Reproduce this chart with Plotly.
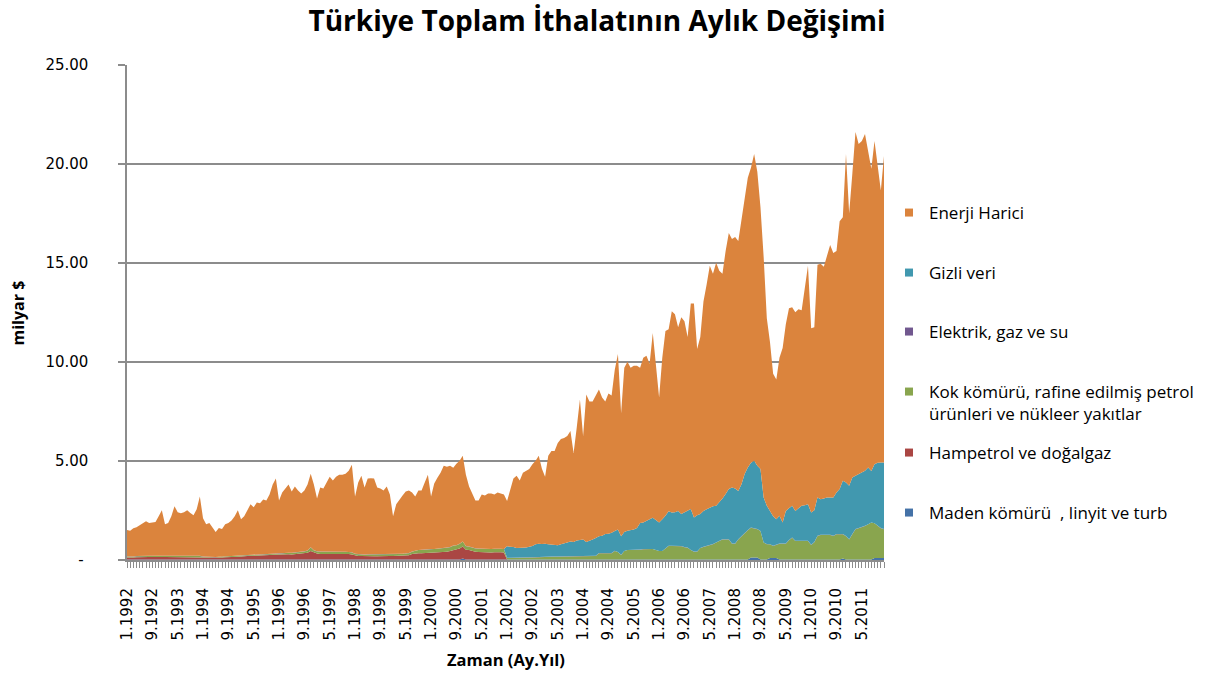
import plotly.graph_objects as go

# ---------------- data (milyar $, monthly 1.1992 - 12.2011) ----------------
years = list(range(1992, 2012))
months = [f"{m}.{y}" for y in years for m in range(1, 13)]

tick_labels = ["1.1992", "9.1992", "5.1993", "1.1994", "9.1994", "5.1995", "1.1996",
               "9.1996", "5.1997", "1.1998", "9.1998", "5.1999", "1.2000", "9.2000",
               "5.2001", "1.2002", "9.2002", "5.2003", "1.2004", "9.2004", "5.2005",
               "1.2006", "9.2006", "5.2007", "1.2008", "9.2008", "5.2009", "1.2010",
               "9.2010", "5.2011"]

y_ticks = [0, 5, 10, 15, 20, 25]
y_tick_text = ["-", "5.00", "10.00", "15.00", "20.00", "25.00"]

maden = [
    0.03, 0.03, 0.03, 0.03, 0.03, 0.03, 0.03, 0.03, 0.03, 0.03, 0.03, 0.03,  # 1992
    0.03, 0.03, 0.03, 0.03, 0.03, 0.03, 0.03, 0.03, 0.03, 0.03, 0.03, 0.03,  # 1993
    0.03, 0.03, 0.03, 0.03, 0.03, 0.03, 0.03, 0.03, 0.03, 0.03, 0.03, 0.03,  # 1994
    0.03, 0.03, 0.03, 0.03, 0.03, 0.03, 0.03, 0.03, 0.03, 0.03, 0.03, 0.03,  # 1995
    0.03, 0.03, 0.03, 0.03, 0.03, 0.03, 0.03, 0.03, 0.03, 0.03, 0.03, 0.03,  # 1996
    0.03, 0.03, 0.03, 0.03, 0.03, 0.03, 0.03, 0.03, 0.03, 0.03, 0.03, 0.03,  # 1997
    0.03, 0.03, 0.03, 0.03, 0.03, 0.03, 0.03, 0.03, 0.03, 0.03, 0.03, 0.03,  # 1998
    0.03, 0.03, 0.03, 0.03, 0.03, 0.03, 0.03, 0.03, 0.03, 0.03, 0.03, 0.03,  # 1999
    0.03, 0.03, 0.03, 0.03, 0.03, 0.03, 0.03, 0.03, 0.03, 0.03, 0.08, 0.03,  # 2000
    0.03, 0.03, 0.03, 0.03, 0.03, 0.03, 0.03, 0.03, 0.03, 0.03, 0.03, 0.03,  # 2001
    0.03, 0.03, 0.03, 0.03, 0.03, 0.03, 0.03, 0.03, 0.03, 0.03, 0.03, 0.03,  # 2002
    0.03, 0.03, 0.03, 0.03, 0.03, 0.03, 0.03, 0.03, 0.03, 0.03, 0.03, 0.03,  # 2003
    0.03, 0.03, 0.03, 0.03, 0.03, 0.03, 0.03, 0.03, 0.03, 0.03, 0.03, 0.03,  # 2004
    0.03, 0.03, 0.03, 0.03, 0.03, 0.03, 0.03, 0.03, 0.03, 0.03, 0.03, 0.03,  # 2005
    0.03, 0.03, 0.03, 0.03, 0.03, 0.03, 0.03, 0.03, 0.03, 0.03, 0.03, 0.03,  # 2006
    0.03, 0.03, 0.03, 0.03, 0.03, 0.03, 0.03, 0.03, 0.03, 0.03, 0.03, 0.03,  # 2007
    0.03, 0.03, 0.03, 0.03, 0.03, 0.12, 0.12, 0.12, 0.03, 0.03, 0.03, 0.10,  # 2008
    0.10, 0.10, 0.03, 0.03, 0.03, 0.03, 0.03, 0.03, 0.03, 0.03, 0.03, 0.03,  # 2009
    0.03, 0.03, 0.03, 0.03, 0.03, 0.03, 0.03, 0.03, 0.03, 0.03, 0.08, 0.03,  # 2010
    0.03, 0.03, 0.03, 0.03, 0.03, 0.03, 0.03, 0.03, 0.10, 0.10, 0.10, 0.10,  # 2011
]

hampetrol = [
    0.10, 0.09, 0.10, 0.11, 0.12, 0.12, 0.13, 0.12, 0.12, 0.13, 0.13, 0.12,  # 1992
    0.12, 0.12, 0.13, 0.13, 0.12, 0.12, 0.13, 0.13, 0.12, 0.12, 0.13, 0.12,  # 1993
    0.10, 0.09, 0.09, 0.08, 0.07, 0.09, 0.10, 0.11, 0.11, 0.12, 0.13, 0.14,  # 1994
    0.15, 0.17, 0.17, 0.18, 0.19, 0.19, 0.20, 0.21, 0.22, 0.22, 0.23, 0.24,  # 1995
    0.22, 0.24, 0.25, 0.26, 0.25, 0.27, 0.27, 0.29, 0.32, 0.34, 0.43, 0.35,  # 1996
    0.30, 0.27, 0.27, 0.29, 0.28, 0.27, 0.27, 0.26, 0.26, 0.27, 0.27, 0.25,  # 1997
    0.19, 0.17, 0.17, 0.16, 0.17, 0.17, 0.16, 0.16, 0.17, 0.18, 0.17, 0.17,  # 1998
    0.17, 0.18, 0.19, 0.19, 0.20, 0.21, 0.27, 0.30, 0.31, 0.31, 0.32, 0.33,  # 1999
    0.33, 0.34, 0.34, 0.35, 0.37, 0.39, 0.42, 0.47, 0.49, 0.55, 0.60, 0.49,  # 2000
    0.47, 0.42, 0.39, 0.37, 0.36, 0.37, 0.36, 0.35, 0.36, 0.37, 0.36, 0.35,  # 2001
    0.00, 0.00, 0.00, 0.00, 0.00, 0.00, 0.00, 0.00, 0.00, 0.00, 0.00, 0.00,  # 2002
    0.00, 0.00, 0.00, 0.00, 0.00, 0.00, 0.00, 0.00, 0.00, 0.00, 0.00, 0.00,  # 2003
    0.00, 0.00, 0.00, 0.00, 0.00, 0.00, 0.00, 0.00, 0.00, 0.00, 0.00, 0.00,  # 2004
    0.00, 0.00, 0.00, 0.00, 0.00, 0.00, 0.00, 0.00, 0.00, 0.00, 0.00, 0.00,  # 2005
    0.00, 0.00, 0.00, 0.00, 0.00, 0.00, 0.00, 0.00, 0.00, 0.00, 0.00, 0.00,  # 2006
    0.00, 0.00, 0.00, 0.00, 0.00, 0.00, 0.00, 0.00, 0.00, 0.00, 0.00, 0.00,  # 2007
    0.00, 0.00, 0.00, 0.00, 0.00, 0.00, 0.00, 0.00, 0.00, 0.00, 0.00, 0.00,  # 2008
    0.00, 0.00, 0.00, 0.00, 0.00, 0.00, 0.00, 0.00, 0.00, 0.00, 0.00, 0.00,  # 2009
    0.00, 0.00, 0.00, 0.00, 0.00, 0.00, 0.00, 0.00, 0.00, 0.00, 0.00, 0.00,  # 2010
    0.00, 0.00, 0.00, 0.00, 0.00, 0.00, 0.00, 0.00, 0.00, 0.00, 0.00, 0.00,  # 2011
]

kok = [
    0.05, 0.05, 0.04, 0.05, 0.05, 0.06, 0.05, 0.05, 0.05, 0.06, 0.05, 0.05,  # 1992
    0.05, 0.05, 0.05, 0.06, 0.05, 0.05, 0.05, 0.05, 0.06, 0.05, 0.05, 0.05,  # 1993
    0.04, 0.04, 0.04, 0.04, 0.04, 0.04, 0.04, 0.04, 0.04, 0.04, 0.04, 0.04,  # 1994
    0.05, 0.05, 0.05, 0.05, 0.05, 0.05, 0.05, 0.05, 0.05, 0.05, 0.05, 0.05,  # 1995
    0.07, 0.07, 0.07, 0.07, 0.07, 0.07, 0.07, 0.08, 0.08, 0.10, 0.17, 0.10,  # 1996
    0.10, 0.12, 0.12, 0.12, 0.12, 0.12, 0.12, 0.12, 0.12, 0.11, 0.10, 0.10,  # 1997
    0.08, 0.08, 0.08, 0.08, 0.08, 0.08, 0.08, 0.08, 0.08, 0.08, 0.08, 0.08,  # 1998
    0.08, 0.08, 0.08, 0.09, 0.09, 0.10, 0.12, 0.15, 0.16, 0.17, 0.18, 0.19,  # 1999
    0.18, 0.18, 0.19, 0.19, 0.19, 0.20, 0.20, 0.22, 0.22, 0.23, 0.25, 0.18,  # 2000
    0.17, 0.17, 0.16, 0.17, 0.17, 0.17, 0.17, 0.17, 0.17, 0.17, 0.17, 0.17,  # 2001
    0.07, 0.07, 0.08, 0.08, 0.09, 0.09, 0.09, 0.10, 0.10, 0.11, 0.13, 0.14,  # 2002
    0.14, 0.14, 0.14, 0.14, 0.14, 0.14, 0.15, 0.15, 0.15, 0.17, 0.17, 0.17,  # 2003
    0.17, 0.17, 0.17, 0.17, 0.17, 0.31, 0.31, 0.31, 0.31, 0.31, 0.43, 0.37,  # 2004
    0.22, 0.42, 0.47, 0.47, 0.47, 0.49, 0.49, 0.51, 0.51, 0.52, 0.52, 0.47,  # 2005
    0.42, 0.42, 0.57, 0.68, 0.68, 0.68, 0.68, 0.67, 0.62, 0.59, 0.47, 0.39,  # 2006
    0.39, 0.57, 0.63, 0.67, 0.73, 0.77, 0.85, 0.92, 1.01, 1.01, 1.01, 0.79,  # 2007
    0.79, 1.01, 1.17, 1.35, 1.47, 1.51, 1.48, 1.43, 1.43, 0.85, 0.77, 0.69,  # 2008
    0.61, 0.65, 0.79, 0.79, 0.79, 0.97, 1.10, 0.93, 0.93, 0.93, 0.93, 0.93,  # 2009
    0.73, 0.87, 1.18, 1.23, 1.23, 1.23, 1.23, 1.18, 1.27, 1.27, 1.22, 1.17,  # 2010
    1.01, 1.27, 1.52, 1.57, 1.62, 1.69, 1.77, 1.86, 1.75, 1.62, 1.50, 1.45,  # 2011
]

elektrik = [
    0.01, 0.01, 0.01, 0.01, 0.01, 0.01, 0.01, 0.01, 0.01, 0.01, 0.01, 0.01,  # 1992
    0.01, 0.01, 0.01, 0.01, 0.01, 0.01, 0.01, 0.01, 0.01, 0.01, 0.01, 0.01,  # 1993
    0.01, 0.01, 0.01, 0.01, 0.01, 0.01, 0.01, 0.01, 0.01, 0.01, 0.01, 0.01,  # 1994
    0.01, 0.01, 0.01, 0.01, 0.01, 0.01, 0.01, 0.01, 0.01, 0.01, 0.01, 0.01,  # 1995
    0.01, 0.01, 0.01, 0.01, 0.01, 0.01, 0.01, 0.01, 0.01, 0.01, 0.01, 0.01,  # 1996
    0.01, 0.01, 0.01, 0.01, 0.01, 0.01, 0.01, 0.01, 0.01, 0.01, 0.01, 0.01,  # 1997
    0.01, 0.01, 0.01, 0.01, 0.01, 0.01, 0.01, 0.01, 0.01, 0.01, 0.01, 0.01,  # 1998
    0.01, 0.01, 0.01, 0.01, 0.01, 0.01, 0.01, 0.01, 0.01, 0.01, 0.01, 0.01,  # 1999
    0.01, 0.01, 0.01, 0.01, 0.01, 0.01, 0.01, 0.01, 0.01, 0.01, 0.01, 0.01,  # 2000
    0.01, 0.01, 0.01, 0.01, 0.01, 0.01, 0.01, 0.01, 0.01, 0.01, 0.01, 0.01,  # 2001
    0.01, 0.01, 0.01, 0.01, 0.01, 0.01, 0.01, 0.01, 0.01, 0.01, 0.01, 0.01,  # 2002
    0.01, 0.01, 0.01, 0.01, 0.01, 0.01, 0.01, 0.01, 0.01, 0.01, 0.01, 0.01,  # 2003
    0.01, 0.01, 0.01, 0.01, 0.01, 0.01, 0.01, 0.01, 0.01, 0.01, 0.01, 0.01,  # 2004
    0.01, 0.01, 0.01, 0.01, 0.01, 0.01, 0.01, 0.01, 0.01, 0.01, 0.01, 0.01,  # 2005
    0.01, 0.01, 0.01, 0.01, 0.01, 0.01, 0.01, 0.01, 0.01, 0.01, 0.01, 0.01,  # 2006
    0.01, 0.01, 0.01, 0.01, 0.01, 0.01, 0.01, 0.01, 0.01, 0.01, 0.01, 0.01,  # 2007
    0.01, 0.01, 0.01, 0.01, 0.01, 0.01, 0.01, 0.01, 0.01, 0.01, 0.01, 0.01,  # 2008
    0.01, 0.01, 0.01, 0.01, 0.01, 0.01, 0.01, 0.01, 0.01, 0.01, 0.01, 0.01,  # 2009
    0.01, 0.01, 0.01, 0.01, 0.01, 0.01, 0.01, 0.01, 0.01, 0.01, 0.01, 0.01,  # 2010
    0.01, 0.01, 0.01, 0.01, 0.01, 0.01, 0.01, 0.01, 0.01, 0.01, 0.01, 0.01,  # 2011
]

gizli = [
    0.00, 0.00, 0.00, 0.00, 0.00, 0.00, 0.00, 0.00, 0.00, 0.00, 0.00, 0.00,  # 1992
    0.00, 0.00, 0.00, 0.00, 0.00, 0.00, 0.00, 0.00, 0.00, 0.00, 0.00, 0.00,  # 1993
    0.00, 0.00, 0.00, 0.00, 0.00, 0.00, 0.00, 0.00, 0.00, 0.00, 0.00, 0.00,  # 1994
    0.00, 0.00, 0.00, 0.00, 0.00, 0.00, 0.00, 0.00, 0.00, 0.00, 0.00, 0.00,  # 1995
    0.00, 0.00, 0.00, 0.00, 0.00, 0.00, 0.00, 0.00, 0.00, 0.00, 0.00, 0.00,  # 1996
    0.00, 0.00, 0.00, 0.00, 0.00, 0.00, 0.00, 0.00, 0.00, 0.00, 0.00, 0.00,  # 1997
    0.00, 0.00, 0.00, 0.00, 0.00, 0.00, 0.00, 0.00, 0.00, 0.00, 0.00, 0.00,  # 1998
    0.00, 0.00, 0.00, 0.00, 0.00, 0.00, 0.00, 0.00, 0.00, 0.00, 0.00, 0.00,  # 1999
    0.00, 0.00, 0.00, 0.00, 0.00, 0.00, 0.00, 0.00, 0.00, 0.00, 0.00, 0.00,  # 2000
    0.00, 0.00, 0.00, 0.00, 0.00, 0.00, 0.00, 0.00, 0.00, 0.00, 0.00, 0.00,  # 2001
    0.58, 0.56, 0.54, 0.49, 0.48, 0.47, 0.50, 0.53, 0.57, 0.64, 0.65, 0.63,  # 2002
    0.64, 0.61, 0.59, 0.58, 0.56, 0.61, 0.67, 0.70, 0.75, 0.70, 0.77, 0.80,  # 2003
    0.82, 0.70, 0.75, 0.82, 0.90, 0.85, 0.88, 0.96, 0.98, 1.02, 0.99, 1.13,  # 2004
    0.94, 0.95, 0.97, 1.00, 1.03, 1.08, 1.34, 1.35, 1.41, 1.50, 1.57, 1.50,  # 2005
    1.44, 1.60, 1.62, 1.74, 1.68, 1.69, 1.76, 1.61, 1.75, 1.89, 2.06, 1.72,  # 2006
    1.83, 1.71, 1.81, 1.85, 1.88, 1.90, 1.85, 1.95, 2.06, 2.28, 2.53, 2.83,  # 2007
    2.78, 2.44, 2.62, 2.95, 3.16, 3.27, 3.40, 3.20, 3.12, 2.27, 1.93, 1.68,  # 2008
    1.49, 1.30, 1.40, 1.07, 1.65, 1.60, 1.60, 1.51, 1.64, 1.77, 1.79, 1.85,  # 2009
    1.63, 1.60, 1.94, 1.80, 1.84, 1.89, 1.89, 1.94, 2.10, 2.27, 2.69, 2.70,  # 2010
    2.70, 2.86, 2.70, 2.73, 2.76, 2.78, 2.86, 2.60, 2.98, 3.18, 3.32, 3.37,  # 2011
]

enerji_harici = [
    1.32, 1.30, 1.42, 1.45, 1.55, 1.66, 1.74, 1.66, 1.68, 1.69, 1.99, 2.30,  # 1992
    1.60, 1.66, 1.99, 2.49, 2.20, 2.15, 2.19, 2.29, 2.15, 2.05, 2.34, 3.00,  # 1993
    1.93, 1.64, 1.70, 1.45, 1.26, 1.44, 1.38, 1.62, 1.68, 1.79, 2.00, 2.29,  # 1994
    1.82, 1.95, 2.25, 2.54, 2.38, 2.63, 2.57, 2.76, 2.70, 3.00, 3.49, 3.78,  # 1995
    2.68, 3.06, 3.25, 3.44, 3.10, 3.33, 3.13, 2.95, 3.07, 3.33, 3.72, 3.32,  # 1996
    2.67, 3.23, 3.18, 3.46, 3.77, 3.58, 3.78, 3.89, 3.89, 3.94, 4.10, 4.42,  # 1997
    2.90, 3.62, 3.97, 3.38, 3.82, 3.84, 3.83, 3.38, 3.32, 3.21, 3.42, 3.02,  # 1998
    1.92, 2.51, 2.75, 2.94, 3.13, 3.16, 2.98, 2.72, 3.00, 2.99, 3.37, 3.75,  # 1999
    2.66, 3.30, 3.59, 3.83, 4.16, 4.08, 4.10, 3.93, 4.11, 4.19, 4.32, 3.60,  # 2000
    3.03, 2.68, 2.42, 2.43, 2.74, 2.68, 2.79, 2.80, 2.74, 2.83, 2.79, 2.75,  # 2001
    2.29, 2.94, 3.45, 3.64, 3.40, 3.81, 3.87, 3.92, 4.13, 4.22, 4.44, 3.80,  # 2002
    3.39, 4.47, 4.74, 4.75, 5.17, 5.32, 5.30, 5.37, 5.57, 4.50, 5.73, 7.10,  # 2003
    5.23, 7.45, 7.05, 6.98, 7.20, 7.41, 6.98, 6.70, 7.08, 6.94, 8.15, 8.87,  # 2004
    6.21, 8.30, 8.53, 8.20, 8.27, 8.20, 7.84, 8.31, 8.35, 7.85, 9.33, 7.90,  # 2005
    6.31, 8.15, 9.33, 9.20, 10.16, 10.00, 9.28, 9.94, 9.65, 8.74, 10.39, 10.81,  # 2006
    8.40, 8.94, 10.58, 11.35, 12.21, 11.75, 12.27, 11.70, 11.35, 12.28, 12.93, 12.55,  # 2007
    12.70, 12.62, 13.28, 13.97, 14.64, 14.90, 15.50, 14.85, 13.22, 12.15, 9.47, 8.53,  # 2008
    7.20, 7.05, 7.98, 8.81, 9.43, 10.10, 10.02, 10.03, 10.05, 9.87, 10.95, 12.04,  # 2009
    9.31, 9.25, 11.75, 11.89, 11.70, 12.15, 12.75, 12.35, 12.20, 13.53, 13.31, 16.60,  # 2010
    13.76, 15.34, 17.35, 16.67, 16.74, 17.00, 15.99, 15.26, 16.32, 15.10, 13.73, 15.48,  # 2011
]

series = [
    ("Maden kömürü  , linyit ve turb", maden, "#4572A7"),
    ("Hampetrol ve doğalgaz", hampetrol, "#AA4643"),
    ("Kok kömürü, rafine edilmiş petrol<br>ürünleri ve nükleer yakıtlar", kok, "#89A54E"),
    ("Elektrik, gaz ve su", elektrik, "#71588F"),
    ("Gizli veri", gizli, "#4198AF"),
    ("Enerji Harici", enerji_harici, "#DB843D"),
]

# ---------------- figure ----------------
W, H = 1206, 677
fig = go.Figure()

for name, vals, col in series:
    fig.add_trace(go.Scatter(
        x=months, y=vals, name=name, mode="lines",
        stackgroup="one", line=dict(width=0, color=col),
        fillcolor=col, showlegend=False, hoverinfo="x+y+name",
    ))

# one legend box per entry so the vertical spacing matches the original
legend_y = {  # legend top, container coords (top to bottom order)
    "Enerji Harici": 1 - 195 / H,
    "Gizli veri": 1 - 255 / H,
    "Elektrik, gaz ve su": 1 - 314 / H,
    "Kok kömürü, rafine edilmiş petrol<br>ürünleri ve nükleer yakıtlar": 1 - 374 / H,
    "Hampetrol ve doğalgaz": 1 - 435 / H,
    "Maden kömürü  , linyit ve turb": 1 - 495 / H,
}
legend_font = dict(family="Open Sans", size=17, color="#000000")
legend_layouts = {}
for i, (name, vals, col) in enumerate(reversed(series)):
    key = "legend" if i == 0 else f"legend{i + 1}"
    fig.add_trace(go.Scatter(
        x=[None], y=[None], mode="markers", name=name,
        marker=dict(symbol="square", size=8, color=col),
        legend=key, showlegend=True,
    ))
    legend_layouts[key] = dict(
        x=889 / W, xref="container", xanchor="left",
        y=legend_y[name], yref="container", yanchor="top",
        font=legend_font, valign="top", itemwidth=30,
        bgcolor="rgba(0,0,0,0)",
    )

grid_col = "#8C8C8C"
tick_font = dict(family="DejaVu Sans", size=15, color="#000000")
NB = "\u00a0"

fig.update_layout(
    width=W, height=H,
    margin=dict(l=127, r=322, t=65, b=117, autoexpand=False),
    paper_bgcolor="white", plot_bgcolor="white",
    title=dict(
        text="<b>Türkiye Toplam İthalatının Aylık Değişimi</b>",
        font=dict(family="Open Sans", size=28, color="#000000"),
        x=597 / W, xref="container", xanchor="center",
        y=1 - 21 / H, yref="container", yanchor="middle",
    ),
    showlegend=True,
    xaxis=dict(
        type="category",
        range=[0, len(months) - 1],
        tickmode="array",
        tickvals=months,
        ticktext=[(m + NB * 3) if m in tick_labels else "" for m in months],
        tickangle=-90,
        ticks="outside", ticklen=6, tickcolor=grid_col, tickwidth=1,
        showline=True, linecolor=grid_col, linewidth=1.5,
        showgrid=False, zeroline=False,
        tickfont=tick_font,
    ),
    yaxis=dict(
        range=[0, 25],
        tickmode="array", tickvals=y_ticks,
        ticktext=[t + NB * (6 if t == "-" else 5) + "\u2009" for t in y_tick_text],
        ticks="outside", ticklen=7, tickcolor=grid_col, tickwidth=1.5,
        showline=True, linecolor=grid_col, linewidth=1.5,
        showgrid=True, gridcolor=grid_col, gridwidth=1.5,
        zeroline=False,
        tickfont=tick_font,
    ),
    annotations=[
        dict(text="<b>Zaman (Ay.Yıl)</b>", xref="paper", yref="paper",
             x=0.5, y=-0.202, xanchor="center", yanchor="middle",
             showarrow=False, font=dict(family="Open Sans", size=16.5, color="#000000")),
        dict(text="<b>milyar $</b>", xref="paper", yref="paper",
             x=-0.144, y=0.5, xanchor="center", yanchor="middle", textangle=-90,
             showarrow=False, font=dict(family="Open Sans", size=16, color="#000000")),
    ],
    **legend_layouts,
)

# remove the default 8px page margin so the figure fills the window exactly
fig.write_html(
    "out.html",
    config={"displayModeBar": False},
    post_script="document.body.style.margin='0px';",
)
